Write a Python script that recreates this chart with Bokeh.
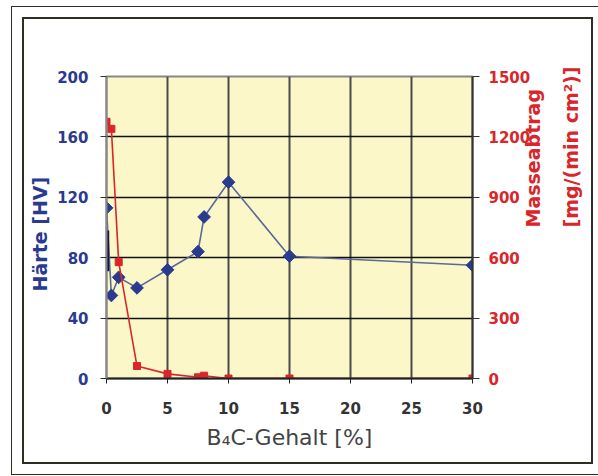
import math
from bokeh.plotting import figure
from bokeh.models import LinearAxis, Range1d, FixedTicker
from bokeh.embed import file_html
from bokeh.resources import INLINE

# --- data ---
b4c = [0, 0.4, 1, 2.5, 5, 7.5, 8, 10, 15, 30]
haerte = [113, 55, 67, 60, 72, 84, 107, 130, 81, 75]
masse = [1275, 1240, 578, 62, 23, 6, 14, 0, 0, 0]
bar_x = [0.1]
bar_lo = [71]
bar_hi = [98]
x_ticks = [0, 5, 10, 15, 20, 25, 30]
left_ticks = [0, 40, 80, 120, 160, 200]
right_ticks = [0, 300, 600, 900, 1200, 1500]

BLUE = "#2a3a8e"
RED = "#d8262a"
FRAME = "#2e2e24"
NB = "\u00a0"

p = figure(width=571, height=447, output_backend="svg", toolbar_location=None,
           x_range=Range1d(0, 30), y_range=Range1d(0, 200),
           min_border_left=82, min_border_right=122, min_border_top=57, min_border_bottom=88)
p.styles = {"margin-left": "22px", "margin-top": "17px",
            "border": f"2px solid {FRAME}",
            "outline": f"1.5px solid {FRAME}", "outline-offset": "10px"}
p.extra_y_ranges = {"mass": Range1d(0, 1500)}
p.background_fill_color = "#fbf7c8"
p.border_fill_color = "white"
p.outline_line_color = "#888888"
p.outline_line_width = 2

# grid
p.xgrid.ticker = FixedTicker(ticks=x_ticks)
p.ygrid.ticker = FixedTicker(ticks=left_ticks)
p.xgrid.grid_line_color = "#4a4a4a"
p.xgrid.grid_line_width = 2
p.ygrid.grid_line_color = "#111111"
p.ygrid.grid_line_width = 1.5

tick_font = "DejaVu Sans"
tick_size = "15px"

# x axis
xa = p.xaxis[0]
xa.ticker = FixedTicker(ticks=x_ticks)
xa.axis_line_color = "#222222"
xa.axis_line_width = 2
xa.major_tick_line_color = "#222222"
xa.major_tick_out = 5
xa.major_tick_in = 0
xa.minor_tick_line_color = None
xa.major_label_text_color = "#333333"
xa.major_label_text_font = tick_font
xa.major_label_text_font_style = "bold"
xa.major_label_text_font_size = tick_size
xa.major_label_standoff = 18
xa.axis_label = "B\u2084C-Gehalt [%]"
xa.axis_label_text_color = "#444444"
xa.axis_label_text_font = "DejaVu Sans"
xa.axis_label_text_font_style = "normal"
xa.axis_label_text_font_size = "22px"
xa.axis_label_standoff = 8

# left axis
ya = p.yaxis[0]
ya.ticker = FixedTicker(ticks=left_ticks)
ya.axis_line_color = "#888888"
ya.axis_line_width = 2
ya.major_tick_line_color = "#333333"
ya.major_tick_out = 6
ya.major_tick_in = 0
ya.minor_tick_line_color = None
ya.major_label_text_color = BLUE
ya.major_label_text_font = tick_font
ya.major_label_text_font_style = "bold"
ya.major_label_text_font_size = tick_size
ya.major_label_standoff = 12
ya.axis_label = "Härte [HV]" + NB * 2
ya.axis_label_text_color = BLUE
ya.axis_label_text_font = "DejaVu Sans"
ya.axis_label_text_font_style = "bold"
ya.axis_label_text_font_size = "19px"
ya.axis_label_standoff = 3

# right axis (ticks + first label line)
ra = LinearAxis(y_range_name="mass", ticker=FixedTicker(ticks=right_ticks))
ra.axis_line_color = "#333333"
ra.axis_line_width = 2
ra.major_tick_line_color = "#333333"
ra.major_tick_out = 7
ra.major_tick_in = 0
ra.minor_tick_line_color = None
ra.major_label_text_color = RED
ra.major_label_text_font = tick_font
ra.major_label_text_font_style = "bold"
ra.major_label_text_font_size = tick_size
ra.major_label_standoff = 9
ra.axis_label = "Masseabtrag" + NB * 10
ra.axis_label_text_color = RED
ra.axis_label_text_font = "DejaVu Sans"
ra.axis_label_text_font_style = "bold"
ra.axis_label_text_font_size = "19px"
ra.axis_label_text_align = "center"
ra.axis_label_standoff = 0
ra.axis_label_orientation = math.pi / 2
p.add_layout(ra, "right")

# second line of the right label
ra2 = LinearAxis(y_range_name="mass", ticker=FixedTicker(ticks=[]))
ra2.axis_line_color = None
ra2.major_tick_line_color = None
ra2.minor_tick_line_color = None
ra2.axis_label = "[mg/(min cm²)]" + NB * 7
ra2.axis_label_text_color = RED
ra2.axis_label_text_font = "DejaVu Sans"
ra2.axis_label_text_font_style = "bold"
ra2.axis_label_text_font_size = "19px"
ra2.axis_label_text_align = "center"
ra2.axis_label_standoff = 12
ra2.axis_label_orientation = math.pi / 2
p.add_layout(ra2, "right")

# data
p.line(b4c, haerte, line_color="#5a6a98", line_width=1.6)
p.segment(x0=bar_x, y0=bar_lo, x1=bar_x, y1=bar_hi, line_color="#15153a", line_width=3)
p.scatter(b4c, haerte, marker="square", angle=math.pi / 4, size=9, fill_color=BLUE, line_color=BLUE)
p.line(b4c, masse, y_range_name="mass", line_color=RED, line_width=1.6)
p.scatter(b4c, masse, y_range_name="mass", marker="square", size=7, fill_color=RED, line_color=RED)

open("out.html", "w").write(file_html(p, INLINE))
